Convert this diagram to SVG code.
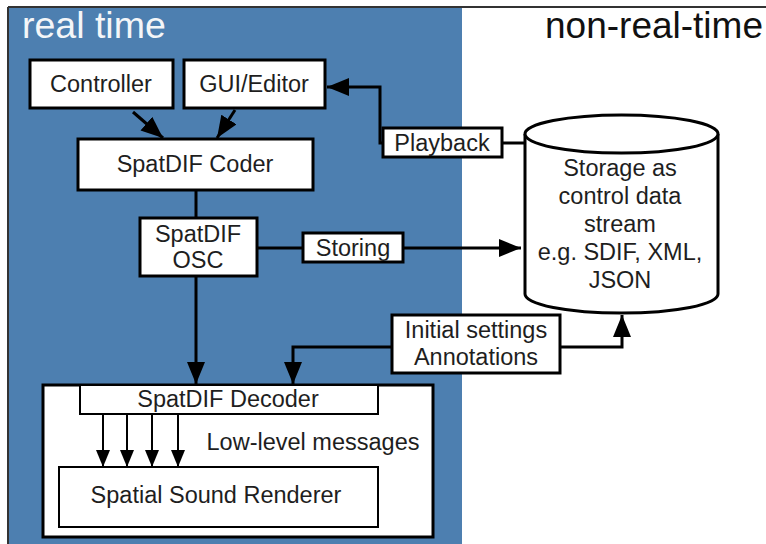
<svg xmlns="http://www.w3.org/2000/svg" width="766" height="544" viewBox="0 0 766 544">
<style>
.t{font-family:"Liberation Sans",Arial,sans-serif;font-size:23.5px;fill:#1e1e1e;text-anchor:middle}
.title{font-family:"Liberation Sans",Arial,sans-serif;font-size:37.5px}
.box{fill:#fff;stroke:#000;stroke-width:3}
.thin{fill:#fff;stroke:#000;stroke-width:2}
.c{fill:none;stroke:#000;stroke-width:3}
.cs{fill:none;stroke:#000;stroke-width:2}
</style>
<defs>
<marker id="ah" markerUnits="userSpaceOnUse" markerWidth="24" markerHeight="20" refX="22" refY="9" orient="auto">
<path d="M0,0 L22,9 L0,18 z" fill="#000"/>
</marker>
<marker id="as" markerUnits="userSpaceOnUse" markerWidth="18" markerHeight="16" refX="17" refY="7" orient="auto">
<path d="M0,0 L17,7 L0,14 z" fill="#000"/>
</marker>
</defs>
<rect x="0" y="0" width="766" height="544" fill="#fff"/>
<g id="panel-realtime">
<rect x="8" y="7" width="454" height="540" fill="#4d7fb0"/>
<line x1="8" y1="7" x2="766" y2="7" stroke="#333" stroke-width="2"/>
<line x1="8" y1="7" x2="8" y2="544" stroke="#333" stroke-width="2"/>
<text class="title" x="22" y="38" fill="#f4f6f8">real time</text>
</g>
<g id="panel-nonrealtime">
<text class="title" x="545" y="38" fill="#111" style="font-size:37px">non-real-time</text>
</g>
<g id="controller">
<rect class="box" x="30" y="60" width="143" height="48"/>
<text class="t" x="101" y="92">Controller</text>
</g>
<g id="gui-editor">
<rect class="box" x="184" y="60" width="141" height="48"/>
<text class="t" x="254" y="92">GUI/Editor</text>
</g>
<g id="spatdif-coder">
<rect class="box" x="78" y="139" width="235" height="51"/>
<text class="t" x="195" y="172">SpatDIF Coder</text>
</g>
<g id="spatdif-osc">
<rect class="box" x="140" y="218" width="117" height="58"/>
<text class="t" x="198" y="242">SpatDIF</text>
<text class="t" x="198" y="268">OSC</text>
</g>
<g id="storing">
<rect class="box" x="303" y="233" width="100" height="29"/>
<text class="t" x="353" y="256">Storing</text>
</g>
<g id="playback">
<rect class="box" x="383" y="128" width="119" height="29"/>
<text class="t" x="442" y="151">Playback</text>
</g>
<g id="storage">
<path d="M525,134 L525,294 A96.5,19 0 0 0 718,294 L718,134" fill="#fff" stroke="#000" stroke-width="3"/>
<ellipse cx="621.5" cy="134" rx="96.5" ry="19" fill="#fff" stroke="#000" stroke-width="3"/>
<text class="t" x="620" y="176">Storage as</text>
<text class="t" x="620" y="204">control data</text>
<text class="t" x="620" y="232">stream</text>
<text class="t" x="620" y="260">e.g. SDIF, XML,</text>
<text class="t" x="620" y="288">JSON</text>
</g>
<g id="initial-settings">
<rect class="box" x="392" y="315" width="168" height="58"/>
<text class="t" x="476" y="338">Initial settings</text>
<text class="t" x="476" y="365">Annotations</text>
</g>
<g id="decoder-group">
<rect class="box" x="43" y="385" width="390" height="152"/>
<rect class="thin" x="80" y="385" width="298" height="29"/>
<text class="t" x="228" y="407">SpatDIF Decoder</text>
<text class="t" x="313" y="450">Low-level messages</text>
</g>
<g id="renderer">
<rect class="thin" x="59" y="467" width="319" height="60"/>
<text class="t" x="216" y="503">Spatial Sound Renderer</text>
</g>
<g id="connectors">
<line class="c" x1="133" y1="112" x2="163" y2="138" marker-end="url(#ah)"/>
<line class="c" x1="235" y1="110" x2="217" y2="138" marker-end="url(#ah)"/>
<polyline class="c" points="502,143 524,143"/>
<polyline class="c" points="383,143 380,143 380,87 327,87" marker-end="url(#ah)"/>
<line class="c" x1="196" y1="190" x2="196" y2="218"/>
<line class="c" x1="257" y1="248" x2="303" y2="248"/>
<line class="c" x1="403" y1="248" x2="521" y2="248" marker-end="url(#ah)"/>
<line class="c" x1="196" y1="276" x2="196" y2="384" marker-end="url(#ah)"/>
<polyline class="c" points="392,347 293,347 293,384" marker-end="url(#ah)"/>
<polyline class="c" points="560,347 622,347 622,315" marker-end="url(#ah)"/>
<line class="cs" x1="103" y1="414" x2="103" y2="467" marker-end="url(#as)"/>
<line class="cs" x1="127" y1="414" x2="127" y2="467" marker-end="url(#as)"/>
<line class="cs" x1="152" y1="414" x2="152" y2="467" marker-end="url(#as)"/>
<line class="cs" x1="178" y1="414" x2="178" y2="467" marker-end="url(#as)"/>
</g>
</svg>
